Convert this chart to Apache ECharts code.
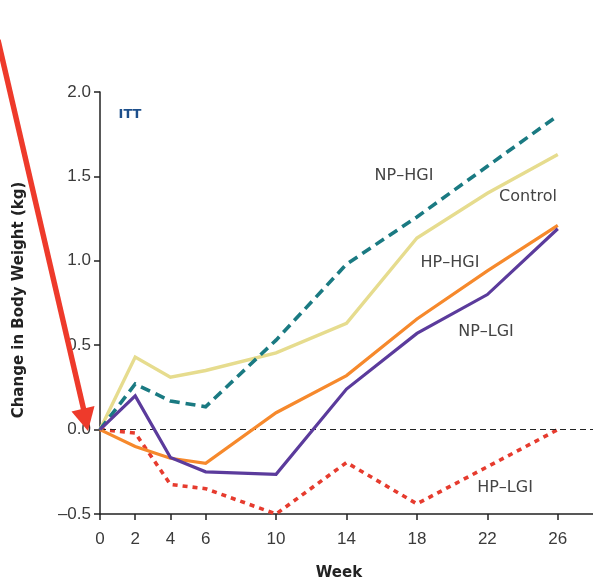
<!DOCTYPE html>
<html>
<head>
<meta charset="utf-8">
<script src="https://cdn.jsdelivr.net/npm/echarts@6/dist/echarts.min.js"></script>
<style>
html,body{margin:0;padding:0;background:#fff;}
#c{width:593px;height:582px;}
</style>
</head>
<body>
<div id="c"></div>
<script>
var weeks = [0, 2, 4, 6, 10, 14, 18, 22, 26];
var xTicks = [0, 2, 4, 6, 10, 14, 18, 22, 26];
var control = [0, 0.43, 0.31, 0.35, 0.455, 0.63, 1.135, 1.40, 1.63];
var npHgi = [0, 0.27, 0.17, 0.135, 0.53, 0.98, 1.26, 1.56, 1.86];
var hpHgi = [0, -0.10, -0.17, -0.20, 0.10, 0.32, 0.655, 0.94, 1.21];
var npLgi = [0, 0.20, -0.165, -0.25, -0.265, 0.24, 0.57, 0.80, 1.19];
var hpLgi = [0, -0.02, -0.325, -0.35, -0.50, -0.195, -0.44, -0.22, 0.0];

function pairs(vals) { return weeks.map(function (w, i) { return [w, vals[i]]; }); }

var chart = echarts.init(document.getElementById('c'), null, {renderer: 'canvas'});
var tickFont = {fontFamily: 'Liberation Sans', fontSize: 17, color: '#3a3a3a'};
var lblFont = 'DejaVu Sans';

function line(name, vals, color, type, width, z) {
  return {
    name: name, type: 'line', data: pairs(vals), symbol: 'none', z: z,
    lineStyle: {color: color, width: width, type: type, cap: 'butt', join: 'miter'}
  };
}

var series = [
  {
    type: 'line', data: [], silent: true,
    markLine: {
      silent: true, symbol: 'none', label: {show: false},
      lineStyle: {color: '#222', width: 1.2, type: [6, 4]},
      data: [{yAxis: 0}]
    }
  },
  line('Control', control, '#e6dc8e', 'solid', 3.4, 3),
  line('NP–HGI', npHgi, '#1a7a82', [10, 6], 3.6, 4),
  line('HP–HGI', hpHgi, '#f6892c', 'solid', 3.2, 5),
  line('NP–LGI', npLgi, '#5b3b9c', 'solid', 3.2, 6),
  line('HP–LGI', hpLgi, '#e63b2e', [5, 5], 3.6, 4)
];

function txt(x, y, s, opt) {
  return {
    type: 'text', x: x, y: y, z: 100,
    style: Object.assign({text: s, fontFamily: lblFont, fontSize: 16, fill: '#444',
      align: 'center', verticalAlign: 'middle'}, opt || {})
  };
}

chart.setOption({
  animation: false,
  backgroundColor: '#fff',
  grid: {left: 100, right: 0, top: 92, bottom: 68, containLabel: false},
  xAxis: {
    type: 'value', min: 0, max: 28,
    axisLine: {show: true, onZero: false, lineStyle: {color: '#222', width: 1.5}},
    axisTick: {show: true, length: 6, customValues: xTicks, lineStyle: {color: '#222', width: 1.5}},
    axisLabel: Object.assign({customValues: xTicks, margin: 17}, tickFont),
    splitLine: {show: false}
  },
  yAxis: {
    type: 'value', min: -0.5, max: 2.0, interval: 0.5,
    axisLine: {show: true, onZero: false, lineStyle: {color: '#222', width: 1.5}},
    axisTick: {show: true, length: 6, lineStyle: {color: '#222', width: 1.5}},
    axisLabel: Object.assign({margin: 9, formatter: function (v) {
      return (v < 0 ? '–' : '') + Math.abs(v).toFixed(1);
    }}, tickFont),
    splitLine: {show: false}
  },
  series: series,
  graphic: [
    txt(130, 115, 'ITT', {fill: '#1d4f8b', fontWeight: 'bold', fontSize: 13}),
    txt(404, 176, 'NP–HGI'),
    txt(528, 197, 'Control'),
    txt(450, 263, 'HP–HGI'),
    txt(486, 332, 'NP–LGI'),
    txt(505, 488, 'HP–LGI'),
    txt(339, 573, 'Week', {fontWeight: 'bold', fontSize: 15, fill: '#222'}),
    {type: 'text', x: 19, y: 300, rotation: Math.PI / 2, z: 100,
      style: {text: 'Change in Body Weight (kg)', fontFamily: lblFont, fontWeight: 'bold',
        fontSize: 15, fill: '#222', align: 'center', verticalAlign: 'middle'}},
    {type: 'line', z: 200, shape: {x1: -2, y1: 40, x2: 84, y2: 411},
      style: {stroke: '#ee3a2b', lineWidth: 5.5}},
    {type: 'polygon', z: 200, shape: {points: [[71.5, 411.5], [94.5, 406], [88, 431]]},
      style: {fill: '#ee3a2b'}}
  ]
});
</script>
</body>
</html>
